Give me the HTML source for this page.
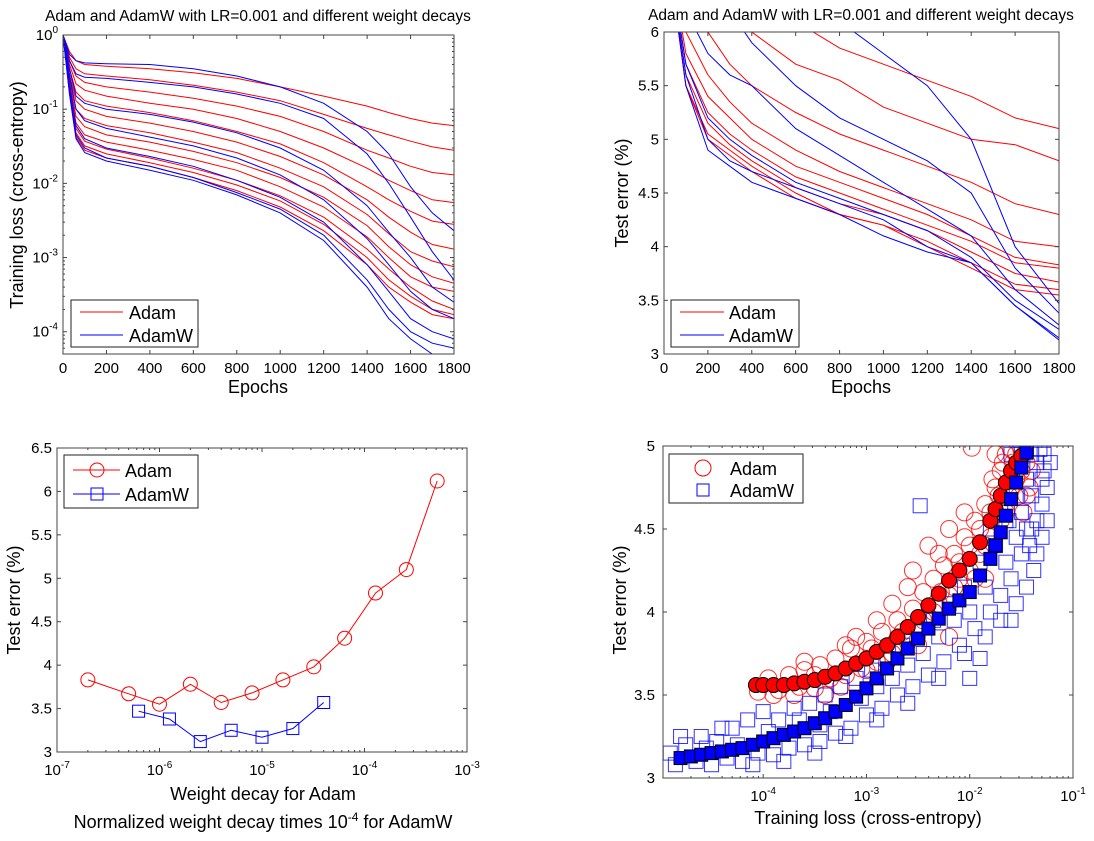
<!DOCTYPE html>
<html><head><meta charset="utf-8"><style>
html,body{margin:0;padding:0;background:#fff;}
svg{display:block;font-family:"Liberation Sans",Arial,sans-serif;}
</style></head><body>
<svg id="chart" width="1094" height="841" viewBox="0 0 1094 841" xmlns="http://www.w3.org/2000/svg">
<defs>
<clipPath id="c1"><rect x="63" y="35" width="391" height="319"/></clipPath>
<clipPath id="c2"><rect x="664" y="32" width="395" height="322"/></clipPath>
<clipPath id="c3"><rect x="57" y="448" width="410" height="304"/></clipPath>
<clipPath id="c4"><rect x="663" y="446" width="410" height="332"/></clipPath>
</defs>
</svg>
<script>
// ---------- DATA ----------
const tlEpochs = [0,30,60,100,200,400,600,800,1000,1200,1400,1500,1600,1700,1800];
const tlAdam = [
[1,0.6,0.45,0.4,0.38,0.35,0.31,0.26,0.2,0.15,0.11,0.09,0.075,0.065,0.06],
[1,0.5,0.35,0.3,0.28,0.25,0.21,0.17,0.13,0.085,0.055,0.045,0.037,0.031,0.028],
[1,0.45,0.28,0.23,0.2,0.17,0.14,0.11,0.08,0.05,0.028,0.022,0.017,0.014,0.013],
[1,0.4,0.22,0.18,0.15,0.12,0.1,0.075,0.05,0.03,0.016,0.011,0.008,0.006,0.0055],
[1,0.35,0.17,0.13,0.11,0.09,0.07,0.05,0.034,0.019,0.009,0.006,0.0042,0.0031,0.0028],
[1,0.3,0.13,0.1,0.08,0.065,0.05,0.036,0.023,0.013,0.006,0.0035,0.0022,0.0015,0.0013],
[1,0.28,0.1,0.075,0.06,0.048,0.036,0.026,0.016,0.009,0.0038,0.0021,0.0012,0.0009,0.00075],
[1,0.25,0.08,0.058,0.045,0.036,0.027,0.019,0.012,0.0065,0.0027,0.0014,0.0008,0.00055,0.00045],
[1,0.22,0.065,0.045,0.036,0.028,0.021,0.015,0.009,0.0048,0.0019,0.001,0.00055,0.0004,0.00035],
[1,0.2,0.055,0.037,0.029,0.022,0.016,0.011,0.0068,0.0035,0.0013,0.0007,0.0004,0.00026,0.0002],
[1,0.18,0.048,0.032,0.025,0.019,0.014,0.0095,0.0058,0.0028,0.001,0.0005,0.0003,0.0002,0.00017],
[1,0.16,0.042,0.028,0.022,0.017,0.012,0.008,0.0048,0.0023,0.0008,0.0004,0.00025,0.00017,0.00015]];
const tlAdamW = [
[1,0.55,0.45,0.42,0.41,0.4,0.35,0.28,0.2,0.12,0.05,0.025,0.009,0.004,0.0023],
[1,0.45,0.3,0.27,0.26,0.23,0.2,0.16,0.12,0.075,0.025,0.01,0.0035,0.0012,0.0005],
[1,0.35,0.15,0.12,0.1,0.085,0.067,0.048,0.03,0.015,0.005,0.0022,0.001,0.0004,0.00025],
[1,0.28,0.1,0.07,0.055,0.042,0.032,0.022,0.013,0.006,0.0018,0.0008,0.00035,0.0002,0.00015],
[1,0.22,0.06,0.04,0.03,0.023,0.017,0.011,0.0065,0.003,0.0008,0.00035,0.00015,0.0001,0.00008],
[1,0.18,0.045,0.03,0.022,0.017,0.012,0.0075,0.0045,0.002,0.0005,0.0002,0.0001,0.00007,0.00006],
[1,0.16,0.04,0.026,0.02,0.015,0.011,0.007,0.004,0.0017,0.0004,0.00015,0.00008,0.00005,0.00005]];
const trEpochs = [0,100,200,300,400,600,800,1000,1200,1400,1600,1800];
const trAdam = [
[9,8,7.5,7,6.6,6.1,5.85,5.7,5.55,5.4,5.2,5.1],
[9,7.5,6.8,6.3,6.0,5.7,5.55,5.3,5.15,5.0,4.95,4.8],
[8,6.5,6.0,5.7,5.5,5.25,5.05,4.9,4.75,4.6,4.4,4.3],
[7,6.0,5.6,5.35,5.15,4.9,4.7,4.55,4.4,4.25,4.05,4.0],
[7,5.8,5.4,5.2,5.0,4.75,4.6,4.45,4.3,4.1,3.9,3.83],
[7,5.7,5.25,5.05,4.9,4.65,4.5,4.35,4.2,4.05,3.85,3.8],
[7,5.6,5.15,4.95,4.8,4.55,4.4,4.3,4.15,3.95,3.75,3.67],
[7,5.5,5.05,4.9,4.75,4.5,4.3,4.2,4.05,3.85,3.65,3.6],
[7,5.5,5.0,4.85,4.7,4.45,4.3,4.2,4.0,3.8,3.6,3.55]];
const trAdamW = [
[9,8.5,8,7.5,7,6.5,6.1,5.8,5.5,5.0,4.0,3.47],
[9,7,6.5,6.2,5.9,5.5,5.2,5.0,4.8,4.5,3.8,3.38],
[8,6.2,5.8,5.6,5.5,5.1,4.85,4.6,4.35,4.1,3.6,3.27],
[7,5.7,5.2,5.0,4.85,4.6,4.45,4.3,4.15,3.9,3.5,3.23],
[7,5.6,5.0,4.8,4.7,4.55,4.4,4.25,4.0,3.85,3.45,3.15],
[7,5.5,4.9,4.75,4.6,4.45,4.3,4.1,3.95,3.85,3.45,3.13]];
const blAdamX = [2e-7,5e-7,1e-6,2e-6,4e-6,8e-6,1.6e-5,3.2e-5,6.4e-5,1.28e-4,2.56e-4,5.12e-4];
const blAdamY = [3.83,3.67,3.55,3.78,3.57,3.68,3.83,3.98,4.31,4.83,5.1,6.12];
const blAdamWX = [6.25e-7,1.25e-6,2.5e-6,5e-6,1e-5,2e-5,4e-5];
const blAdamWY = [3.47,3.38,3.12,3.25,3.17,3.27,3.57];
const brAdamLogX = [-4.07,-4.0,-3.9,-3.8,-3.7,-3.6,-3.5,-3.4,-3.3,-3.2,-3.1,-3.0,-2.9,-2.8,-2.7,-2.6,-2.5,-2.4,-2.3,-2.2,-2.1,-2.0,-1.9,-1.8,-1.75,-1.7,-1.65,-1.6,-1.55,-1.5];
const brAdamY = [3.56,3.56,3.56,3.56,3.57,3.58,3.59,3.61,3.63,3.66,3.69,3.72,3.76,3.8,3.85,3.91,3.97,4.04,4.11,4.19,4.25,4.32,4.42,4.55,4.62,4.7,4.78,4.85,4.9,4.94];
const brAdamWLogX = [-4.8,-4.7,-4.6,-4.5,-4.4,-4.3,-4.2,-4.1,-4.0,-3.9,-3.8,-3.7,-3.6,-3.5,-3.4,-3.3,-3.2,-3.1,-3.0,-2.9,-2.8,-2.7,-2.6,-2.5,-2.4,-2.3,-2.2,-2.1,-2.0,-1.9,-1.8,-1.75,-1.7,-1.65,-1.6,-1.55,-1.5,-1.45];
const brAdamWY = [3.12,3.13,3.14,3.15,3.16,3.17,3.18,3.2,3.22,3.24,3.26,3.28,3.3,3.33,3.36,3.4,3.44,3.49,3.54,3.6,3.66,3.72,3.78,3.84,3.9,3.96,4.02,4.07,4.12,4.22,4.32,4.4,4.48,4.58,4.68,4.78,4.87,4.96];
const brAdamCloud = [[-4.05,3.52],[-3.95,3.6],[-3.85,3.53],[-3.75,3.62],[-3.65,3.55],[-3.6,3.65],[-3.5,3.54],[-3.45,3.68],[-3.35,3.6],[-3.3,3.72],[-3.2,3.62],[-3.15,3.78],[-3.05,3.66],[-3.0,3.82],[-2.9,3.7],[-2.85,3.88],[-2.75,3.75],[-2.7,3.95],[-2.6,3.82],[-2.55,4.02],[-2.5,3.9],[-2.45,4.12],[-2.4,3.97],[-2.35,4.2],[-2.3,4.05],[-2.25,4.28],[-2.2,4.1],[-2.15,4.35],[-2.1,4.2],[-2.05,4.45],[-2.0,4.25],[-1.98,4.99],[-1.95,4.55],[-1.9,4.35],[-1.85,4.65],[-1.8,4.45],[-1.75,4.75],[-1.7,4.55],[-1.68,4.9],[-1.62,4.7],[-1.6,4.98],[-1.55,4.8],[-1.5,4.98],[-1.45,4.9],[-1.42,4.75],[-1.48,4.6],[-2.4,4.4],[-2.6,4.15],[-3.1,3.85],[-3.4,3.5],[-2.2,3.85],[-1.85,4.2],
[-3.9,3.5],[-3.7,3.5],[-3.5,3.62],[-3.25,3.55],[-3.0,3.65],[-2.95,3.78],[-2.8,3.7],[-2.65,3.88],[-2.5,3.8],[-2.45,3.95],[-2.35,4.0],[-2.28,4.12],[-2.15,4.15],[-2.1,4.3],[-2.0,4.4],[-1.95,4.2],[-1.9,4.5],[-1.85,4.4],[-1.8,4.6],[-1.78,4.8],[-1.72,4.7],[-1.7,4.85],[-1.65,4.6],[-1.6,4.75],[-1.58,4.9],[-1.52,4.7],[-1.5,4.85],[-1.55,4.95],[-1.65,4.95],[-1.75,4.95],[-2.05,4.6],[-2.2,4.5],[-2.3,4.35],[-2.55,4.25],[-2.75,4.05],[-2.9,3.95],[-3.2,3.8],[-3.6,3.7],[-1.45,4.7],[-1.4,4.85]];
const brAdamWCloud = [[-4.9,3.15],[-4.85,3.08],[-4.75,3.2],[-4.65,3.1],[-4.6,3.25],[-4.5,3.08],[-4.45,3.22],[-4.35,3.12],[-4.3,3.3],[-4.2,3.1],[-4.15,3.35],[-4.05,3.15],[-4.0,3.4],[-3.9,3.14],[-3.85,3.35],[-3.75,3.18],[-3.7,3.42],[-3.6,3.2],[-3.55,3.45],[-3.45,3.22],[-3.4,3.5],[-3.3,3.27],[-3.25,3.55],[-3.15,3.3],[-3.1,3.6],[-3.0,3.38],[-2.95,3.65],[-2.85,3.42],[-2.8,3.72],[-2.7,3.5],[-2.65,3.8],[-2.55,3.55],[-2.5,3.88],[-2.4,3.62],[-2.35,3.95],[-2.25,3.7],[-2.2,4.05],[-2.1,3.8],[-2.05,4.15],[-1.95,3.9],[-1.9,4.3],[-1.8,4.0],[-1.75,4.4],[-1.7,4.1],[-1.65,4.55],[-1.6,4.2],[-1.55,4.7],[-1.5,4.35],[-1.45,4.8],[-1.4,4.5],[-1.35,4.9],[-1.3,4.65],[-1.28,4.85],[-1.32,4.98],[-1.45,4.98],[-1.25,4.55],[-2.48,4.64],[-1.9,3.72],[-3.45,3.32],[-4.4,3.3],[-2.0,3.6],[-1.6,3.95],
[-4.8,3.25],[-4.55,3.18],[-4.25,3.2],[-3.95,3.28],[-3.65,3.35],[-3.35,3.4],[-3.05,3.48],[-2.9,3.55],[-2.75,3.6],[-2.6,3.68],[-2.45,3.75],[-2.3,3.85],[-2.15,3.95],[-2.0,4.0],[-1.85,4.15],[-1.8,4.5],[-1.7,4.6],[-1.65,4.3],[-1.6,4.8],[-1.55,4.45],[-1.5,4.6],[-1.45,4.5],[-1.4,4.7],[-1.35,4.55],[-1.3,4.8],[-1.3,4.45],[-1.25,4.75],[-1.22,4.9],[-1.28,4.95],[-1.4,4.95],[-1.5,4.95],[-1.6,4.95],[-1.38,4.25],[-1.45,4.15],[-1.55,4.05],[-1.7,3.95],[-1.85,3.85],[-2.05,3.75],[-2.3,3.6],[-2.6,3.45],[-2.9,3.35],[-3.2,3.25],[-3.5,3.15],[-3.8,3.1],[-4.1,3.08],[-1.35,4.35],[-1.42,4.4],[-1.62,4.55]];
const titleText = "Adam and AdamW with LR=0.001 and different weight decays";

// ---------- HELPERS ----------
const NS = "http://www.w3.org/2000/svg";
const svg = document.getElementById('chart');
const TICK=15, LAB=18;
function mk(tag, attrs, parent){const e=document.createElementNS(NS,tag);for(const k in attrs)e.setAttribute(k,attrs[k]);(parent||svg).appendChild(e);return e;}
function lin(d0,d1,r0,r1){return v=>r0+(v-d0)/(d1-d0)*(r1-r0);}
function logs(d0,d1,r0,r1){return v=>r0+(Math.log10(v)-d0)/(d1-d0)*(r1-r0);}
function txt(x,y,s,size,anchor,parent){const t=mk('text',{x:x,y:y,'font-size':size,'text-anchor':anchor||'middle',fill:'#000'},parent);t.textContent=s;return t;}
function powText(x,y,exp,anchor,parent){
  const t=mk('text',{x:x,y:y,'font-size':TICK,'text-anchor':anchor,fill:'#000'},parent);
  const a=mk('tspan',{},t);a.textContent='10';
  const b=mk('tspan',{dy:-7,'font-size':10},t);b.textContent=String(exp);
  return t;
}
function box(g,x0,y0,x1,y1){
  const r=mk('rect',{x:x0,y:y0,width:x1-x0,height:y1-y0,fill:'none',stroke:'#444','stroke-width':1},g);
  
  
}
function xTick(g,x,y0,y1,len){mk('line',{x1:x,x2:x,y1:y1,y2:y1-len,stroke:'#444'},g);mk('line',{x1:x,x2:x,y1:y0,y2:y0+len,stroke:'#444'},g);}
function yTick(g,y,x0,x1,len){mk('line',{x1:x0,x2:x0+len,y1:y,y2:y,stroke:'#444'},g);mk('line',{x1:x1,x2:x1-len,y1:y,y2:y,stroke:'#444'},g);}
function polyline(g,pts,color,clip){const p=mk('polyline',{points:pts.map(p=>p[0].toFixed(1)+','+p[1].toFixed(1)).join(' '),fill:'none',stroke:color,'stroke-width':1,'clip-path':clip},g);return p;}

// ---------- PANEL 1 ----------
(function(){
  const g=mk('g',{});
  
  
  const X=lin(0,1800,63,454), Y=logs(-4.3,0,354,35);
  const t=txt(258,21,titleText,15.5,'middle',g);
  
  
  tlAdam.forEach(s=>{const p=polyline(g,tlEpochs.map((e,i)=>[X(e),Y(s[i])]),'#ff0000','url(#c1)');
    
    });
  tlAdamW.forEach(s=>{const p=polyline(g,tlEpochs.map((e,i)=>[X(e),Y(s[i])]),'#0000ff','url(#c1)');
    
    });
  box(g,63,35,454,354);
  for(let e=0;e<=1800;e+=200){xTick(g,X(e),35,354,4);const l=txt(X(e),373,String(e),TICK,'middle',g);
    
    }
  for(let d=-4;d<=0;d++){yTick(g,Y(Math.pow(10,d)),63,454,4);const l=powText(58,Y(Math.pow(10,d))+5,d,'end',g);
    
    
    for(let m=2;m<=9;m++){const v=m*Math.pow(10,d-1);if(Math.log10(v)>=-4.3)yTick(g,Y(v),63,454,2);}}
  const xl=txt(258,393,'Epochs',LAB,'middle',g);
  
  
  const yl=txt(0,0,'Training loss (cross-entropy)',LAB,'middle',g);yl.setAttribute('transform','translate(23,195) rotate(-90)');
  
  
  const lg=mk('g',{},g);
  
  
  mk('rect',{x:71,y:300,width:127,height:47,fill:'#fff',stroke:'#222'},lg);
  mk('line',{x1:80,x2:123,y1:312,y2:312,stroke:'#ff0000'},lg);
  mk('line',{x1:80,x2:123,y1:335,y2:335,stroke:'#0000ff'},lg);
  const a=txt(129,319,'Adam',LAB,'start',lg);
  
  
  const b=txt(129,342,'AdamW',LAB,'start',lg);
  
  
})();

// ---------- PANEL 2 ----------
(function(){
  const g=mk('g',{});
  
  
  const X=lin(0,1800,664,1059), Y=lin(3,6,354,32);
  const t=txt(861,20,titleText,15.5,'middle',g);
  
  
  trAdam.forEach(s=>{const p=polyline(g,trEpochs.map((e,i)=>[X(e),Y(s[i])]),'#ff0000','url(#c2)');
    
    });
  trAdamW.forEach(s=>{const p=polyline(g,trEpochs.map((e,i)=>[X(e),Y(s[i])]),'#0000ff','url(#c2)');
    
    });
  box(g,664,32,1059,354);
  for(let e=0;e<=1800;e+=200){xTick(g,X(e),32,354,4);const l=txt(X(e),373,String(e),TICK,'middle',g);
    
    }
  [3,3.5,4,4.5,5,5.5,6].forEach(v=>{yTick(g,Y(v),664,1059,4);const l=txt(659,Y(v)+5,String(v),TICK,'end',g);
    
    });
  const xl=txt(861,393,'Epochs',LAB,'middle',g);
  
  
  const yl=txt(0,0,'Test error (%)',LAB,'middle',g);yl.setAttribute('transform','translate(628,193) rotate(-90)');
  
  
  const lg=mk('g',{},g);
  
  
  mk('rect',{x:671,y:300,width:128,height:47,fill:'#fff',stroke:'#222'},lg);
  mk('line',{x1:680,x2:724,y1:312,y2:312,stroke:'#ff0000'},lg);
  mk('line',{x1:680,x2:724,y1:335,y2:335,stroke:'#0000ff'},lg);
  const a=txt(729,319,'Adam',LAB,'start',lg);
  
  
  const b=txt(729,342,'AdamW',LAB,'start',lg);
  
  
})();

// ---------- PANEL 3 ----------
(function(){
  const g=mk('g',{});
  
  
  const X=logs(-7,-3,57,467), Y=lin(3,6.5,752,448);
  const pa=polyline(g,blAdamX.map((x,i)=>[X(x),Y(blAdamY[i])]),'#ff0000','url(#c3)');
  
  
  blAdamX.forEach((x,i)=>{const c=mk('circle',{cx:X(x),cy:Y(blAdamY[i]),r:7,fill:'none',stroke:'#ff0000'},g);
    
    });
  const pb=polyline(g,blAdamWX.map((x,i)=>[X(x),Y(blAdamWY[i])]),'#0000ff','url(#c3)');
  
  
  blAdamWX.forEach((x,i)=>{const c=mk('rect',{x:X(x)-6,y:Y(blAdamWY[i])-6,width:12,height:12,fill:'none',stroke:'#0000ff'},g);
    
    });
  box(g,57,448,467,752);
  for(let d=-7;d<=-3;d++){xTick(g,X(Math.pow(10,d)),448,752,4);const l=powText(X(Math.pow(10,d)),775,d,'middle',g);
    
    
    if(d<-3)for(let m=2;m<=9;m++)xTick(g,X(m*Math.pow(10,d)),448,752,2);}
  [3,3.5,4,4.5,5,5.5,6,6.5].forEach(v=>{yTick(g,Y(v),57,467,4);const l=txt(52,Y(v)+5,String(v),TICK,'end',g);
    
    });
  const xl=txt(263,800,'Weight decay for Adam',LAB,'middle',g);
  
  
  const x2=mk('text',{x:263,y:828,'font-size':LAB,'text-anchor':'middle',fill:'#000'},g);
  const s1=mk('tspan',{},x2);s1.textContent='Normalized weight decay times 10';
  const s2=mk('tspan',{dy:-7,'font-size':12},x2);s2.textContent='-4';
  const s3=mk('tspan',{dy:7},x2);s3.textContent=' for AdamW';
  
  
  const yl=txt(0,0,'Test error (%)',LAB,'middle',g);yl.setAttribute('transform','translate(20,600) rotate(-90)');
  
  
  const lg=mk('g',{},g);
  
  
  mk('rect',{x:64,y:455,width:134,height:53,fill:'#fff',stroke:'#222'},lg);
  mk('line',{x1:73,x2:120,y1:470,y2:470,stroke:'#ff0000'},lg);
  mk('circle',{cx:97,cy:470,r:7,fill:'none',stroke:'#ff0000'},lg);
  mk('line',{x1:73,x2:120,y1:494,y2:494,stroke:'#0000ff'},lg);
  mk('rect',{x:91,y:488,width:12,height:12,fill:'none',stroke:'#0000ff'},lg);
  const a=txt(125,477,'Adam',LAB,'start',lg);
  
  
  const b=txt(125,501,'AdamW',LAB,'start',lg);
  
  
})();

// ---------- PANEL 4 ----------
(function(){
  const g=mk('g',{});
  
  
  const X=lin(-4.97,-1,663,1073), Y=lin(3,5,778,446);
  const pts=mk('g',{'clip-path':'url(#c4)'},g);
  brAdamCloud.forEach(p=>{const c=mk('circle',{cx:X(p[0]),cy:Y(p[1]),r:8.5,fill:'none',stroke:'#ff0000','stroke-opacity':0.8},pts);
    
    });
  brAdamWCloud.forEach(p=>{const c=mk('rect',{x:X(p[0])-7,y:Y(p[1])-7,width:14,height:14,fill:'none',stroke:'#0000ff','stroke-opacity':0.8},pts);
    
    });
  brAdamLogX.forEach((x,i)=>{const c=mk('circle',{cx:X(x),cy:Y(brAdamY[i]),r:7.5,fill:'#ff0000',stroke:'#000'},pts);
    
    });
  brAdamWLogX.forEach((x,i)=>{const c=mk('rect',{x:X(x)-6.5,y:Y(brAdamWY[i])-6.5,width:13,height:13,fill:'#0000ff',stroke:'#000'},pts);
    
    });
  box(g,663,446,1073,778);
  for(let d=-5;d<=-1;d++){
    if(d>=-4){xTick(g,X(d),446,778,4);const l=powText(X(d),801,d,'middle',g);
      
      }
    if(d<-1)for(let m=2;m<=9;m++){const v=d+Math.log10(m);if(v>-4.97)xTick(g,X(v),446,778,2);}}
  [3,3.5,4,4.5,5].forEach(v=>{yTick(g,Y(v),663,1073,4);const l=txt(655,Y(v)+5,String(v),TICK,'end',g);
    
    });
  const xl=txt(868,824,'Training loss (cross-entropy)',LAB,'middle',g);
  
  
  const yl=txt(0,0,'Test error (%)',LAB,'middle',g);yl.setAttribute('transform','translate(626,600) rotate(-90)');
  
  
  const lg=mk('g',{},g);
  
  
  mk('rect',{x:669,y:454,width:134,height:49,fill:'#fff',stroke:'#222'},lg);
  mk('circle',{cx:703,cy:468,r:8,fill:'none',stroke:'#ff0000'},lg);
  mk('rect',{x:697,y:484,width:12,height:12,fill:'none',stroke:'#0000ff'},lg);
  const a=txt(730,475,'Adam',LAB,'start',lg);
  
  
  const b=txt(730,497,'AdamW',LAB,'start',lg);
  
  
})();
</script>
</body></html>
